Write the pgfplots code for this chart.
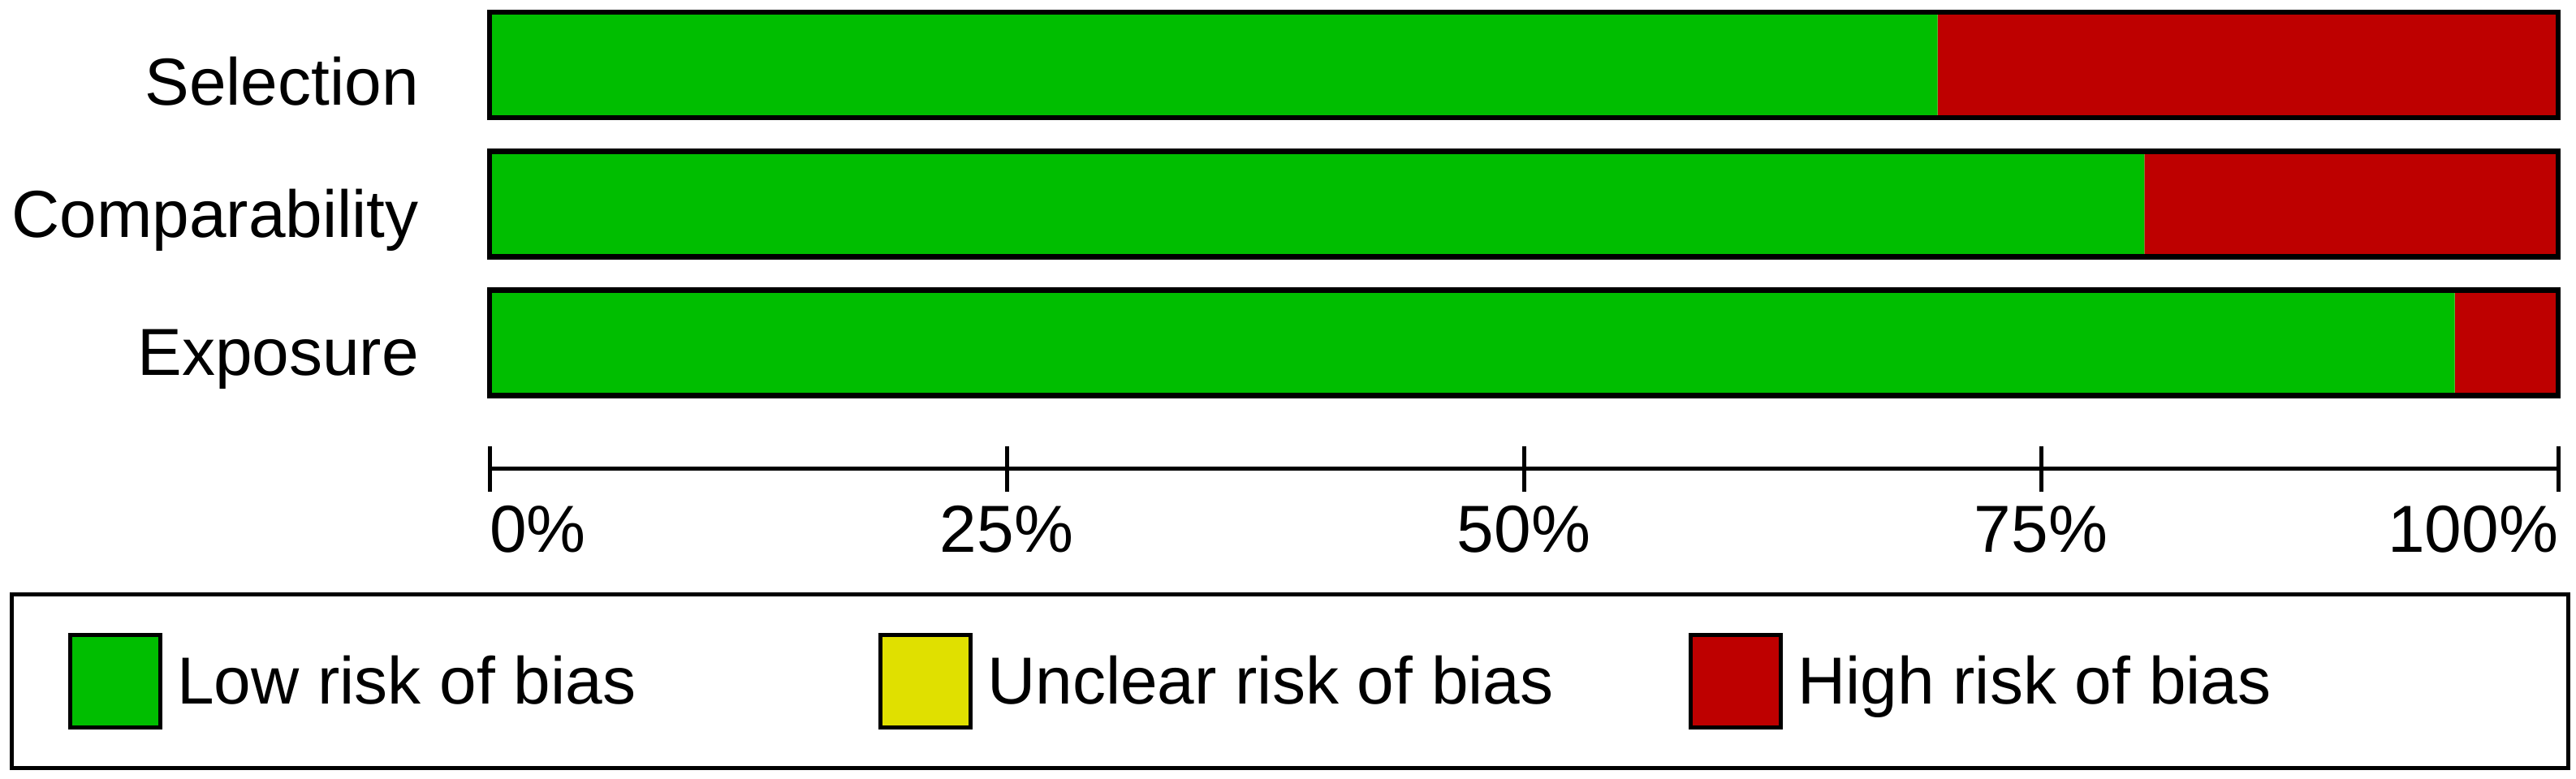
\documentclass[border=0pt]{standalone}
\usepackage{fontspec}
\setmainfont{Liberation Sans}
\usepackage{pgfplots}
\pgfplotsset{compat=1.18}

\definecolor{lowrisk}{RGB}{0,190,0}
\definecolor{unclear}{RGB}{224,224,0}
\definecolor{highrisk}{RGB}{190,0,0}

\pgfplotsset{
  rob frame/.style={
    scale only axis, width=509.6pt, height=115pt,
    at={(120.6pt,-115.6pt)}, anchor=south west,
    xmin=0, xmax=100, ymin=-0.908, ymax=2.45,
    bar width=26pt, clip=false,
  },
}

\begin{document}
\begin{tikzpicture}
\useasboundingbox (0,0) rectangle (634.6pt,-192pt);

\begin{axis}[
  rob frame,
  xbar stacked,
  separate axis lines,
  axis x line*=bottom, axis y line*=left,
  x axis line style={-, line width=1pt},
  y axis line style={draw=none},
  ytick={0,1,2}, yticklabels={Exposure,Comparability,Selection},
  ytick style={draw=none},
  xtick={0,25,50,75,100},
  xticklabels={\makebox[0pt][l]{0\%},25\%,50\%,75\%,\makebox[0pt][r]{100\%}},
  xtick style={line width=1pt, black},
  tick align=center, major tick length=11pt,
  tick label style={font=\fontsize{16.4pt}{19pt}\selectfont},
  yticklabel style={xshift=-8.4pt, yshift=-4pt},
  legend columns=3,
  legend image code/.code={%
    \draw[#1, draw=black, line width=1pt] (0pt,-5.7pt) rectangle (22.2pt,17.1pt);},
  legend style={
    at={(-0.232,-0.2643)}, anchor=north west,
    draw=black, line width=1pt,
    font=\fontsize{16.4pt}{19pt}\selectfont,
    inner xsep=14pt, inner ysep=9.5pt,
    nodes={inner sep=0pt, anchor=base west},
    /tikz/every odd column/.append style={column sep=3.6pt},
  },
]
\addplot[fill=lowrisk, draw=none] coordinates {(70,2) (80,1) (95,0)};
\addplot[fill=unclear, draw=none] coordinates {(0,2) (0,1) (0,0)};
\addplot[fill=highrisk, draw=none] coordinates {(30,2) (20,1) (5,0)};
\legend{\makebox[172.8pt][l]{Low risk of bias},\makebox[172.8pt][l]{Unclear risk of bias},\makebox[175.8pt][l]{High risk of bias}}
\end{axis}

% outline of each whole bar
\begin{axis}[rob frame, xbar, hide axis]
\addplot[fill=none, draw=black, line width=1.3pt] coordinates {(100,2) (100,1) (100,0)};
\end{axis}
\end{tikzpicture}
\end{document}
